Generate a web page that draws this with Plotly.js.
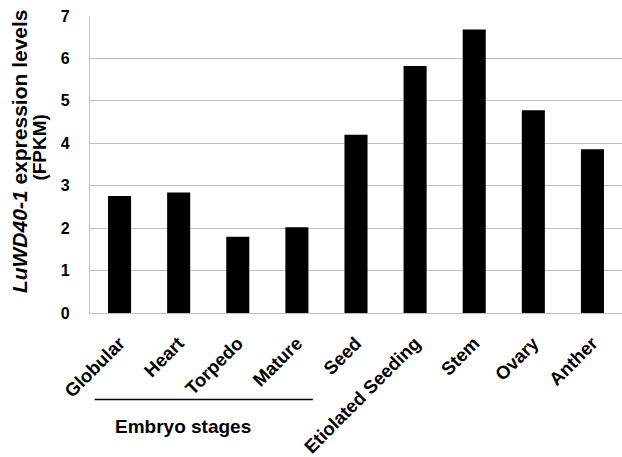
<!DOCTYPE html>
<html>
<head>
<meta charset="utf-8">
<script src="https://cdn.plot.ly/plotly-3.0.1.min.js"></script>
<style>html,body{margin:0;padding:0;background:#fff;}#chart{width:622px;height:457px;}</style>
</head>
<body>
<div id="chart"></div>
<script>
const categories = ["Globular", "Heart", "Torpedo", "Mature", "Seed", "Etiolated Seeding", "Stem", "Ovary", "Anther"];
const fpkm = [2.76, 2.84, 1.80, 2.02, 4.20, 5.82, 6.68, 4.78, 3.86];
const yTicks = [0, 1, 2, 3, 4, 5, 6, 7];
const groupLabel = "Embryo stages";
const yTitleLine1 = "<i>LuWD40-1</i> expression levels";
const yTitleLine2 = "(FPKM)";

const fam = "Liberation Sans, Arial, sans-serif";
const mk = (s) => ({family: fam, size: s, color: "#000", weight: "bold"});

const trace = {
  type: "bar",
  x: categories,
  y: fpkm,
  marker: {color: "#000", line: {color: "#000", width: 0}},
  hoverinfo: "skip"
};

const layout = {
  width: 622, height: 457,
  margin: {l: 90, r: 0, t: 16, b: 144},
  paper_bgcolor: "#fff", plot_bgcolor: "#fff",
  showlegend: false,
  bargap: 0.61,
  font: mk(16),
  xaxis: {
    type: "category",
    tickangle: -45,
    tickfont: mk(18.5),
    showgrid: false,
    showline: true, linecolor: "#bfbfbf", linewidth: 1.2,
    ticks: "",
    ticklabelstandoff: 11
  },
  yaxis: {
    range: [0, 7],
    tickvals: yTicks,
    ticktext: yTicks.map(String),
    tickfont: mk(16),
    showgrid: true, gridcolor: "#bfbfbf", gridwidth: 1.2,
    showline: true, linecolor: "#bfbfbf", linewidth: 1.2,
    zeroline: false,
    ticks: "",
    ticklabelstandoff: 16
  },
  shapes: [
    {type: "line", xref: "x", yref: "paper", x0: -0.42, x1: 3.27, y0: -0.291, y1: -0.291,
     line: {color: "#000", width: 1.5}}
  ],
  annotations: [
    {text: "<b>" + groupLabel + "</b>", xref: "x", yref: "paper", x: 1.07, y: -0.381,
     showarrow: false, font: mk(19), xanchor: "center", yanchor: "middle"},
    {text: "<b>" + yTitleLine1 + "</b>", xref: "paper", yref: "paper", x: -0.1335, y: 0.545,
     textangle: -90, showarrow: false, font: mk(21), xanchor: "center", yanchor: "middle"},
    {text: "<b>" + yTitleLine2 + "</b>", xref: "paper", yref: "paper", x: -0.094, y: 0.557,
     textangle: -90, showarrow: false, font: mk(19), xanchor: "center", yanchor: "middle"}
  ]
};

Plotly.newPlot("chart", [trace], layout, {displayModeBar: false, staticPlot: true});
</script>
</body>
</html>
